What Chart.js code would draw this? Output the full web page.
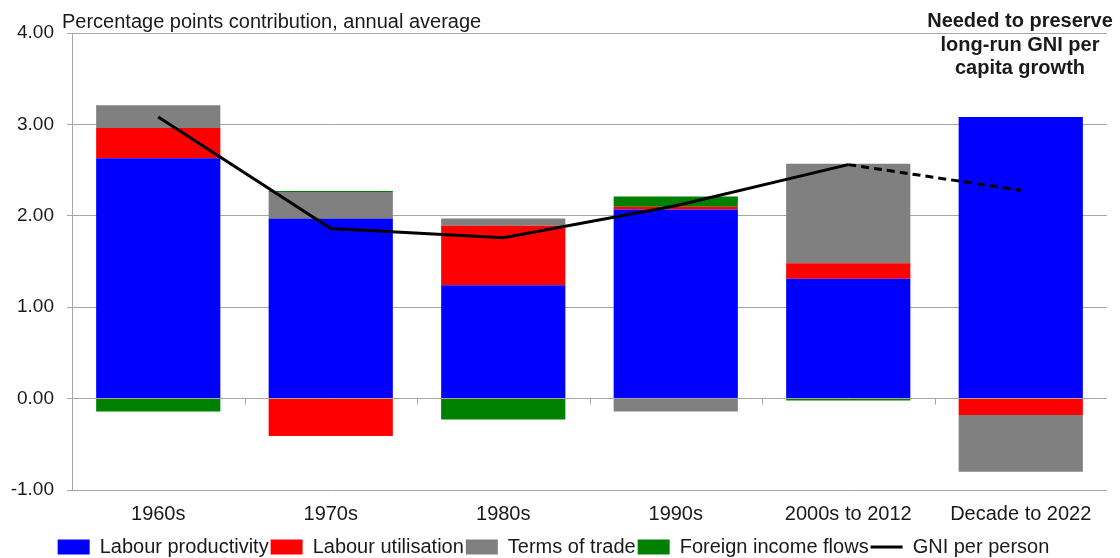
<!DOCTYPE html>
<html>
<head>
<meta charset="utf-8">
<script src="https://cdn.jsdelivr.net/npm/chart.js@4/dist/chart.umd.min.js"></script>
<style>
  html, body { margin: 0; padding: 0; background: #fff; }
  #wrap { position: relative; width: 1120px; height: 558px; }
</style>
</head>
<body>
<div id="wrap"><canvas id="chart"></canvas></div>
<script>
// données
const categories = ['1960s', '1970s', '1980s', '1990s', '2000s to 2012', 'Decade to 2022'];
const labourProductivity = [2.63, 1.97, 1.24, 2.07, 1.31, 3.08];
const labourUtilisation = [0.33, -0.41, 0.65, 0.03, 0.17, -0.18];
const termsOfTrade = [0.25, 0.29, 0.08, -0.14, 1.09, -0.62];
const foreignIncomeFlows = [-0.14, 0.01, -0.23, 0.11, -0.02, null];
const gniPerPerson = [3.08, 1.86, 1.76, 2.11, 2.56, 2.28];
const yTicks = [-1, 0, 1, 2, 3, 4];

const axisTitle = 'Percentage points contribution, annual average';
const noteLines = ['Needed to preserve', 'long-run GNI per', 'capita growth'];

const textColor = '#1a1a1a';
const gridColor = '#a6a6a6';
const fontFamily = '"Liberation Sans", Arial, sans-serif';

// textes libres, petits traits de l'axe des x, légende un peu plus bas
const extraText = {
    id: 'extraText',
    afterLayout(chart) {
        if (chart.legend) {
            chart.legend.top += 9;
            chart.legend.bottom += 9;
        }
    },
    afterDraw(chart) {
        const ctx = chart.ctx;
        ctx.save();
        ctx.fillStyle = textColor;
        ctx.font = '20px ' + fontFamily;
        ctx.textAlign = 'left';
        ctx.textBaseline = 'alphabetic';
        ctx.fillText(axisTitle, 62, 28);

        ctx.font = 'bold 20px ' + fontFamily;
        ctx.textAlign = 'center';
        noteLines.forEach((line, i) => ctx.fillText(line, 1020, 27 + i * 23.5));
        ctx.restore();
    },
    beforeDatasetsDraw(chart) {
        const ctx = chart.ctx;
        const x = chart.scales.x;
        const y0 = chart.scales.y.getPixelForValue(0);
        ctx.save();
        ctx.strokeStyle = gridColor;
        ctx.lineWidth = 1;
        for (let i = 0; i < categories.length - 1; i++) {
            const px = Math.round((x.getPixelForValue(i) + x.getPixelForValue(i + 1)) / 2) + 0.5;
            ctx.beginPath();
            ctx.moveTo(px, y0);
            ctx.lineTo(px, y0 + 6);
            ctx.stroke();
        }
        ctx.restore();
    }
};

const ctx = document.getElementById('chart').getContext('2d');
const chart = new Chart(ctx, {
    type: 'bar',
    data: {
        labels: categories,
        datasets: [
            {
                type: 'line',
                label: 'GNI per person',
                data: gniPerPerson,
                borderColor: '#000000',
                backgroundColor: '#000000',
                borderWidth: 3,
                pointRadius: 0,
                pointStyle: 'line',
                tension: 0,
                order: 0,
                segment: {
                    borderDash: c => c.p1DataIndex === categories.length - 1 ? [8, 5] : undefined
                }
            },
            {
                label: 'Labour productivity',
                data: labourProductivity,
                backgroundColor: '#0000ff',
                pointStyle: 'rect',
                order: 1
            },
            {
                label: 'Labour utilisation',
                data: labourUtilisation,
                backgroundColor: '#ff0000',
                pointStyle: 'rect',
                order: 1
            },
            {
                label: 'Terms of trade',
                data: termsOfTrade,
                backgroundColor: '#808080',
                pointStyle: 'rect',
                order: 1
            },
            {
                label: 'Foreign income flows',
                data: foreignIncomeFlows,
                backgroundColor: '#008000',
                pointStyle: 'rect',
                order: 1
            }
        ]
    },
    options: {
        responsive: true,
        maintainAspectRatio: false,
        animation: false,
        layout: { padding: { top: 33, right: 13, left: 0, bottom: 0 } },
        datasets: {
            bar: { categoryPercentage: 1, barPercentage: 0.72 }
        },
        scales: {
            x: {
                stacked: true,
                grid: { display: false, drawTicks: false },
                border: { display: false },
                ticks: { color: textColor, font: { family: fontFamily, size: 20 }, padding: 12, maxRotation: 0 },
                afterFit: s => { s.height = 36; }
            },
            y: {
                stacked: true,
                min: -1,
                max: 4,
                afterBuildTicks: s => { s.ticks = yTicks.map(v => ({ value: v })); },
                grid: { color: gridColor, lineWidth: 1, tickLength: 5 },
                border: { display: true, color: gridColor, width: 1 },
                ticks: {
                    color: textColor,
                    font: { family: fontFamily, size: 19 },
                    padding: 13,
                    callback: v => Number(v).toFixed(2)
                },
                afterFit: s => { s.width = 72; }
            }
        },
        plugins: {
            legend: {
                position: 'bottom',
                labels: {
                    usePointStyle: true,
                    pointStyleWidth: 32,
                    boxHeight: 15,
                    padding: 2,
                    color: textColor,
                    font: { family: fontFamily, size: 20 },
                    sort: (a, b) => {
                        const rank = i => (i === 0 ? 99 : i);
                        return rank(a.datasetIndex) - rank(b.datasetIndex);
                    }
                }
            },
            tooltip: { enabled: false },
            title: { display: false }
        }
    },
    plugins: [extraText]
});
</script>
</body>
</html>
